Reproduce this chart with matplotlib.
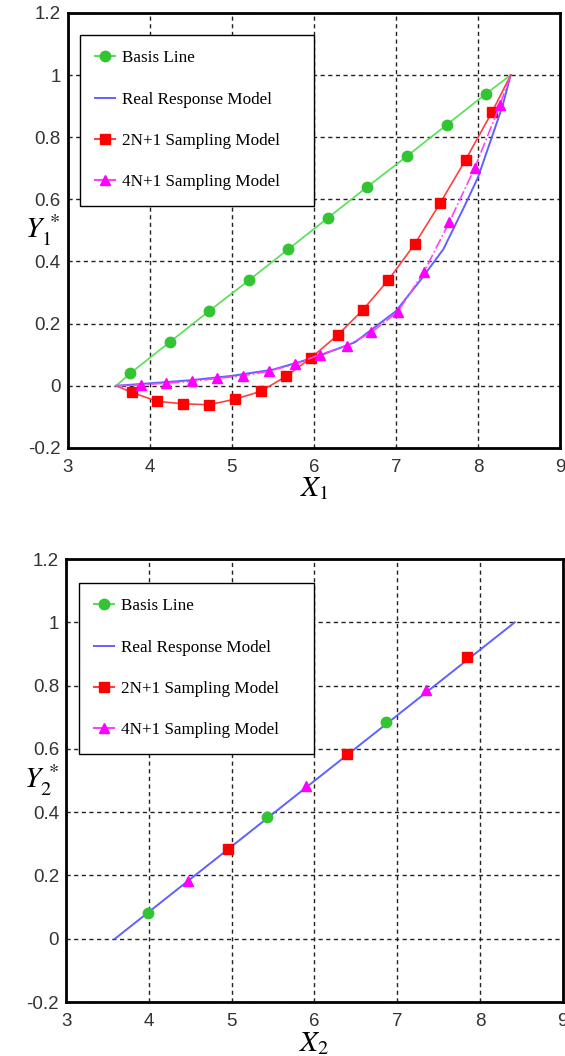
import matplotlib
matplotlib.use("Agg")
import matplotlib.pyplot as plt
from matplotlib.lines import Line2D

# top panel data
basisX1 = [3.59, 3.76, 4.24, 4.72, 5.21, 5.69, 6.17, 6.65, 7.14, 7.62, 8.10, 8.40]
basisY1 = [0.0, 0.04, 0.14, 0.24, 0.34, 0.44, 0.54, 0.64, 0.74, 0.84, 0.94, 1.0]

realX1 = [3.59, 4.0, 4.5, 5.0, 5.5, 6.0, 6.5, 7.0, 7.3, 7.58, 7.84, 8.0, 8.17, 8.3, 8.40]
realY1 = [0.0, 0.008, 0.018, 0.032, 0.052, 0.09, 0.14, 0.24, 0.34, 0.44, 0.58, 0.67, 0.8, 0.9, 1.0]

s2nX1 = [3.59, 3.78, 4.09, 4.41, 4.72, 5.04, 5.35, 5.66, 5.97, 6.29, 6.60, 6.91, 7.23, 7.54, 7.85, 8.17, 8.40]
s2nY1 = [0.0, -0.021, -0.05, -0.058, -0.061, -0.043, -0.018, 0.03, 0.091, 0.163, 0.245, 0.341, 0.456, 0.588, 0.727, 0.88, 1.0]

s4nX1 = [3.59, 3.89, 4.20, 4.51, 4.82, 5.13, 5.45, 5.77, 6.07, 6.40, 6.70, 7.02, 7.34, 7.65, 7.96, 8.27, 8.40]
s4nY1 = [0.0, 0.003, 0.009, 0.014, 0.024, 0.032, 0.047, 0.07, 0.10, 0.129, 0.172, 0.237, 0.365, 0.526, 0.70, 0.904, 1.0]

# bottom panel data
realX2 = [3.59, 8.42]
realY2 = [0.0, 1.0]
basisX2 = [3.99, 5.43, 6.87]
basisY2 = [0.08, 0.385, 0.686]
s2nX2 = [4.96, 6.39, 7.84]
s2nY2 = [0.284, 0.585, 0.889]
s4nX2 = [4.47, 5.90, 7.35]
s4nY2 = [0.182, 0.484, 0.786]

xTicks = [3, 4, 5, 6, 7, 8, 9]
yTicks = [-0.2, 0, 0.2, 0.4, 0.6, 0.8, 1, 1.2]
yTickLabels = ["-0.2", "0", "0.2", "0.4", "0.6", "0.8", "1", "1.2"]
labels = ["Basis Line", "Real Response Model", "2N+1 Sampling Model", "4N+1 Sampling Model"]

plt.rcParams["mathtext.fontset"] = "stix"

fig = plt.figure(figsize=(5.65, 10.56), dpi=100)
ax1 = fig.add_axes([0.120, 0.5758, 0.871, 0.412])
ax2 = fig.add_axes([0.117, 0.0511, 0.879, 0.4195])

greenLine, greenMark = "#55e055", "#33c433"
blueLine = "#6060ff"
redLine, redMark = "#ff4040", "#ff0000"
magLine, magMark = "#ff40ff", "#ff00ff"


def styleAxes(ax, xl, yl, xlabY):
    ax.set_xlim(3, 9)
    ax.set_ylim(-0.2, 1.2)
    ax.set_xticks(xTicks)
    ax.set_yticks(yTicks)
    ax.set_yticklabels(yTickLabels)
    ax.grid(True, color="#222222", linestyle=(0, (3, 2.5)), linewidth=1.0)
    ax.tick_params(length=0, labelsize=13.5, labelcolor="#333333", pad=5)
    ax.tick_params(axis="x", pad=8)
    for lab in ax.get_xticklabels() + ax.get_yticklabels():
        lab.set_family("Liberation Sans")
    for sp in ax.spines.values():
        sp.set_linewidth(2)
        sp.set_color("black")
    ax.set_xlabel(xl, fontsize=21, va="top")
    ax.xaxis.set_label_coords(0.5, xlabY)
    ax.set_ylabel(yl, fontsize=21, rotation=0, va="center", ha="center")
    ax.yaxis.set_label_coords(-0.05, 0.5)


# top panel
ax1.plot(basisX1, basisY1, color=greenLine, lw=1.2, marker="o", ms=7.5,
         mfc=greenMark, mec=greenMark, markevery=slice(1, -1))
ax1.plot(realX1, realY1, color=blueLine, lw=1.4)
ax1.plot(s2nX1, s2nY1, color=redLine, lw=1.2, marker="s", ms=7.5,
         mfc=redMark, mec=redMark, markevery=slice(1, -1))
ax1.plot(s4nX1, s4nY1, color=magLine, lw=1.2, ls="-.", marker="^", ms=7.5,
         mfc=magMark, mec=magMark, markevery=slice(1, -1))

# bottom panel
ax2.plot(basisX2, basisY2, ls="none", marker="o", ms=7.5, mfc=greenMark, mec=greenMark, zorder=3)
ax2.plot(realX2, realY2, color=blueLine, lw=1.4)
ax2.plot(s2nX2, s2nY2, ls="none", marker="s", ms=7.5, mfc=redMark, mec=redMark, zorder=3)
ax2.plot(s4nX2, s4nY2, ls="none", marker="^", ms=7.5, mfc=magMark, mec=magMark, zorder=3)

handles = [
    Line2D([], [], color=greenLine, marker="o", mfc=greenMark, mec=greenMark, ms=7.5),
    Line2D([], [], color=blueLine, lw=1.4),
    Line2D([], [], color=redLine, marker="s", mfc=redMark, mec=redMark, ms=7.5),
    Line2D([], [], color=magLine, marker="^", mfc=magMark, mec=magMark, ms=7.5),
]

for ax, anchor in ((ax1, (0.0244, 0.5, 0.4756, 0.449)), (ax2, (0.026, 0.5, 0.4725, 0.446))):
    leg = ax.legend(handles, labels, loc="upper left", bbox_to_anchor=anchor, mode="expand",
                    borderaxespad=0, fancybox=False, framealpha=1, edgecolor="black",
                    prop={"family": "Liberation Serif", "size": 12.3},
                    labelspacing=1.48, handlelength=1.17, handletextpad=0.4,
                    borderpad=0.9)
    leg.get_frame().set_linewidth(1.0)

styleAxes(ax1, r"$X_1$", r"$Y_1^{\,*}$", -0.06)
styleAxes(ax2, r"$X_2$", r"$Y_2^{\,*}$", -0.062)

plt.savefig("out.png", dpi=100)
